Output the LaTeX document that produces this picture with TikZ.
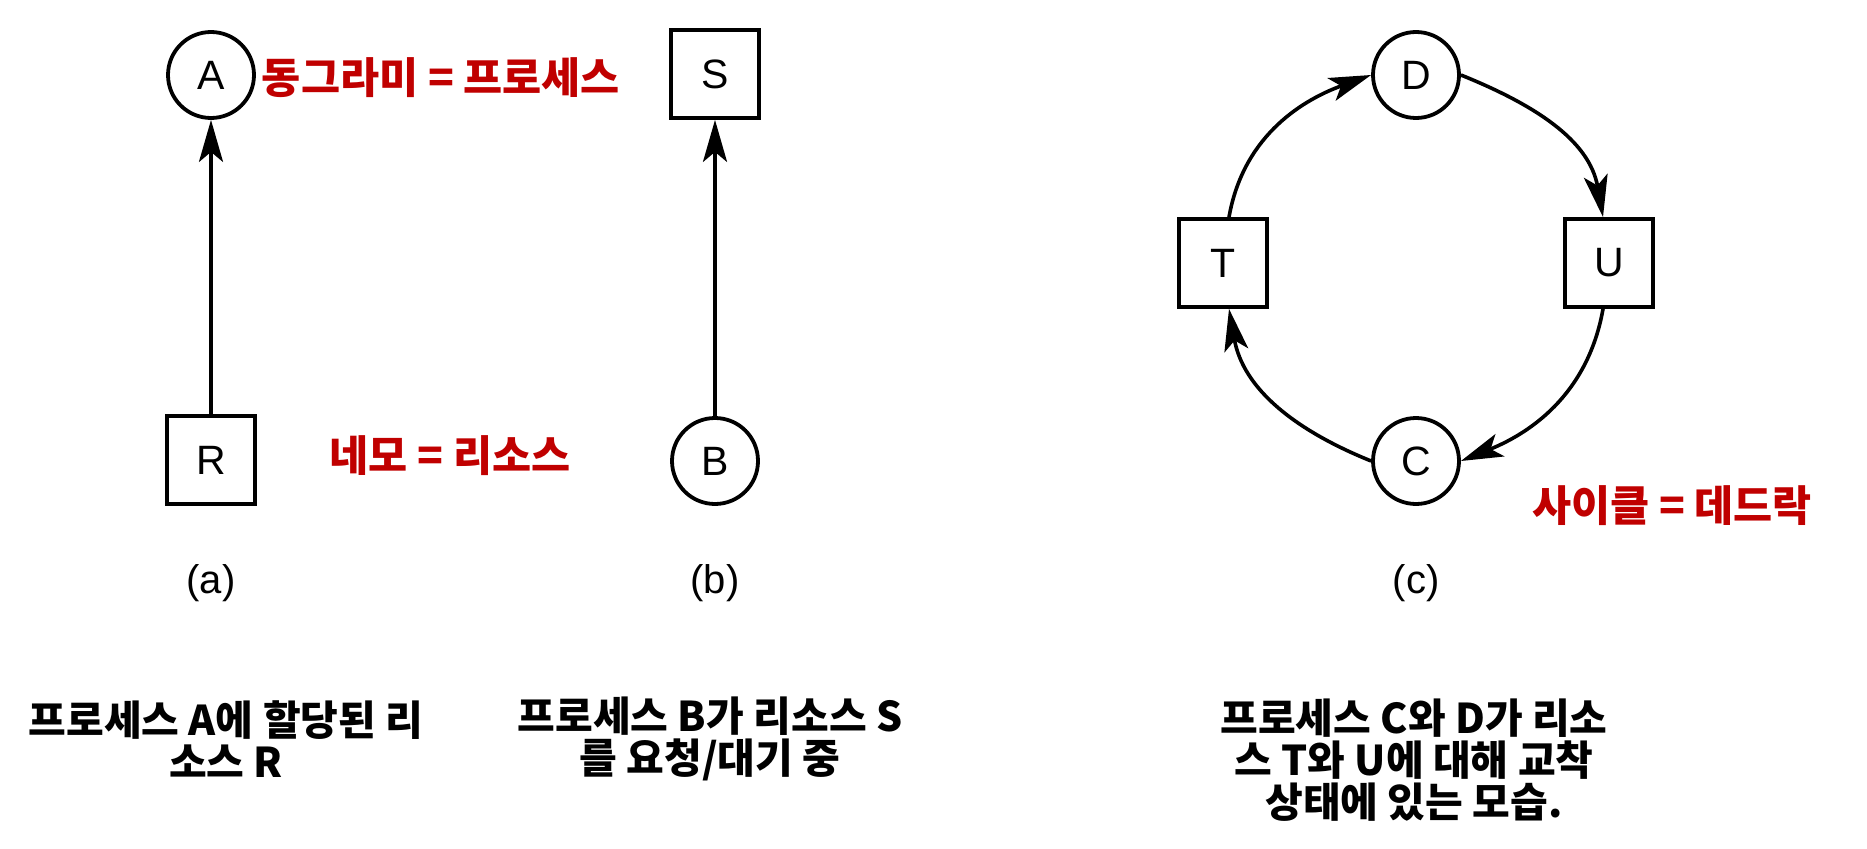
\documentclass[tikz,border=0pt]{standalone}
\usepackage{fontspec}
\setmainfont{Liberation Sans}
\newfontfamily\kr{Noto Sans CJK KR}
\usetikzlibrary{arrows.meta}
\definecolor{lblred}{HTML}{C00000}
\begin{document}
\begin{tikzpicture}[x=1pt,y=1pt,
  proc/.style={circle,draw,line width=3.8pt,minimum size=86pt,inner sep=0pt,font=\fontsize{41}{41}\selectfont},
  res/.style={rectangle,draw,line width=3.8pt,minimum size=88pt,inner sep=0pt,font=\fontsize{41}{41}\selectfont},
  arr/.style={line width=3.6pt,-{Stealth[length=42pt,width=24pt,inset=10pt]}},
  redlbl/.style={text=lblred,font=\kr\bfseries\fontsize{42.5}{42.5}\selectfont,inner sep=0pt},
  sublbl/.style={font=\fontsize{40}{40}\selectfont,inner sep=0pt},
  caption/.style={align=center,font=\kr\bfseries\fontsize{41}{42}\selectfont,inner sep=0pt}
]
\useasboundingbox (0,0) rectangle (1867,-848);
% (a)
\node[proc] (A) at (211,-75) {A};
\node[res]  (R) at (211,-460) {R};
\draw[arr] (R) -- (A);
\node[redlbl] (redA) at (441,-78) {동그라미 = 프로세스};
\node[redlbl] (redR) at (450,-456) {네모 = 리소스};
\node[sublbl] (la) at (211,-583) {(a)};
% (b)
\node[res]  (S) at (715,-74) {S};
\node[proc] (B) at (715,-461) {B};
\draw[arr] (B) -- (S);
\node[sublbl] (lb) at (715,-583) {(b)};
% (c)
\node[proc] (D) at (1416,-75) {D};
\node[res]  (T) at (1223,-263) {T};
\node[res]  (U) at (1609,-263) {U};
\node[proc] (C) at (1416,-461) {C};
\draw[arr] ([xshift=6pt]T.north) to[out=80,in=200] (D.west);
\draw[arr] (D.east) to[out=-22,in=100] ([xshift=-6pt]U.north);
\draw[arr] ([xshift=-6pt]U.south) to[out=-100,in=22] (C.east);
\draw[arr] (C.west) to[out=158,in=-80] ([xshift=6pt]T.south);
\node[redlbl] (redC) at (1672,-506) {사이클 = 데드락};
\node[sublbl] (lc) at (1416,-583) {(c)};
% captions
\node[caption] (capA) at (226,-739) {프로세스 A에 할당된 리\\소스 R};
\node[caption] (capB) at (710,-739) {프로세스 B가 리소스 S\\를 요청/대기 중};
\node[caption] (capC) at (1414,-760) {프로세스 C와 D가 리소\\스 T와 U에 대해 교착\\상태에 있는 모습.};
\end{tikzpicture}
\end{document}
